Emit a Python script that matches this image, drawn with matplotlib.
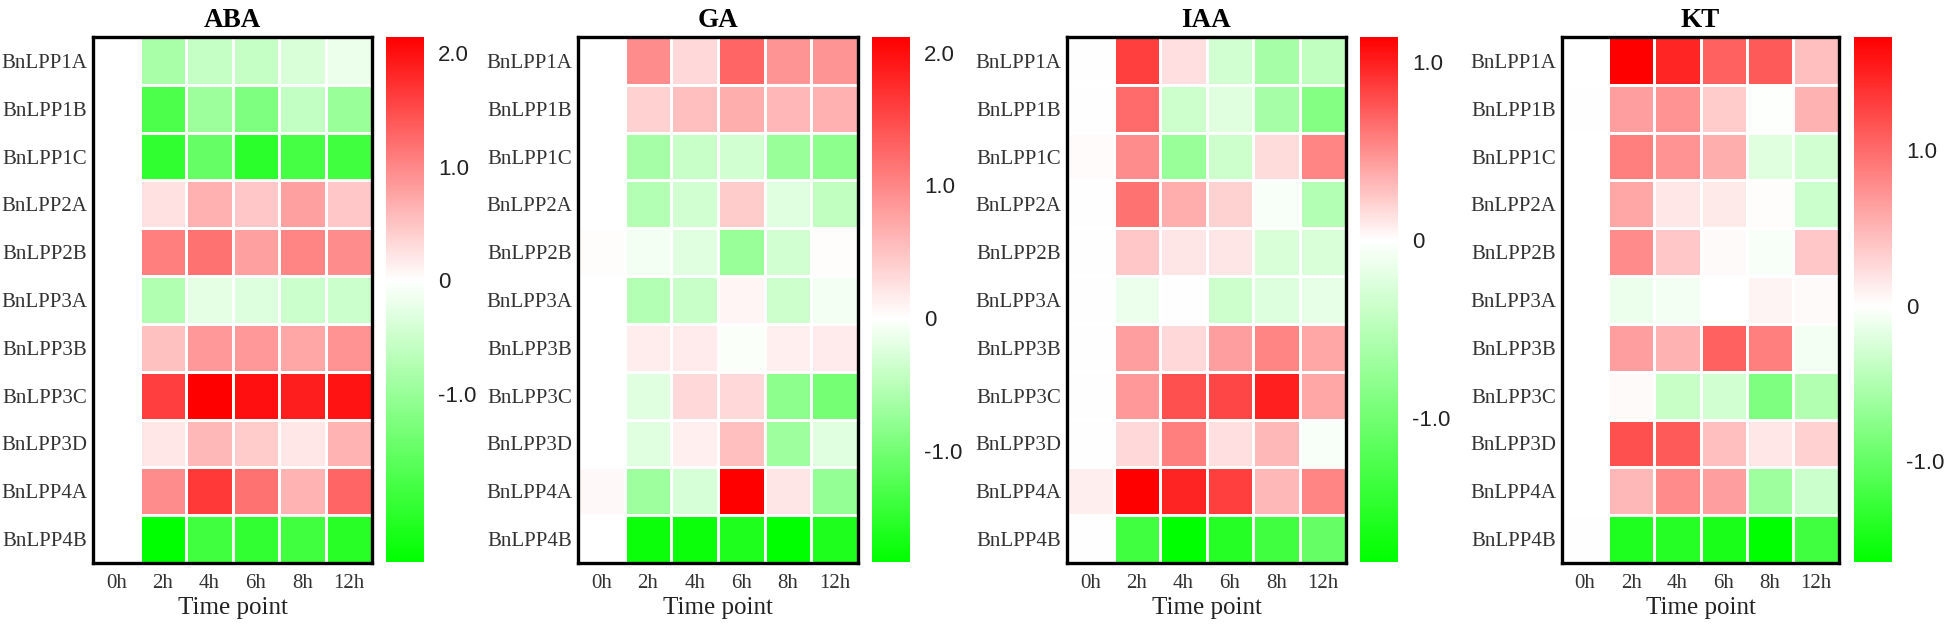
import matplotlib
matplotlib.use("Agg")
import matplotlib.pyplot as plt
import numpy as np
from matplotlib.colors import LinearSegmentedColormap, Normalize

genes = ["BnLPP1A", "BnLPP1B", "BnLPP1C", "BnLPP2A", "BnLPP2B", "BnLPP3A",
         "BnLPP3B", "BnLPP3C", "BnLPP3D", "BnLPP4A", "BnLPP4B"]
times = ["0h", "2h", "4h", "6h", "8h", "12h"]

# expression values (rows = genes, cols = time points)
aba = [
    [0.0, -0.85, -0.55, -0.55, -0.37, -0.20],
    [0.0, -1.75, -0.95, -1.25, -0.60, -1.00],
    [0.0, -2.00, -1.50, -2.05, -1.80, -1.85],
    [0.0, 0.25, 0.65, 0.47, 0.80, 0.47],
    [0.0, 1.07, 1.18, 0.80, 1.03, 0.96],
    [0.0, -0.75, -0.25, -0.32, -0.50, -0.50],
    [0.0, 0.53, 0.85, 0.85, 0.75, 0.90],
    [0.0, 1.60, 2.14, 2.00, 1.88, 1.97],
    [0.0, 0.20, 0.60, 0.43, 0.20, 0.64],
    [0.0, 0.96, 1.67, 1.18, 0.64, 1.28],
    [0.0, -2.48, -1.86, -1.98, -1.86, -2.10],
]
ga = [
    [0.0, 0.95, 0.32, 1.27, 0.89, 0.89],
    [0.0, 0.38, 0.53, 0.68, 0.60, 0.64],
    [0.0, -0.64, -0.40, -0.33, -0.74, -0.83],
    [0.0, -0.55, -0.33, 0.42, -0.22, -0.46],
    [0.02, -0.09, -0.22, -0.74, -0.33, 0.02],
    [0.0, -0.55, -0.40, 0.08, -0.37, -0.09],
    [0.0, 0.15, 0.17, -0.04, 0.13, 0.17],
    [0.0, -0.22, 0.32, 0.32, -0.83, -1.00],
    [0.0, -0.22, 0.13, 0.53, -0.70, -0.22],
    [0.06, -0.70, -0.28, 2.12, 0.21, -0.77],
    [0.0, -1.75, -1.75, -1.62, -1.84, -1.62],
]
iaa = [
    [0.0, 0.86, 0.14, -0.33, -0.63, -0.45],
    [0.0, 0.66, -0.36, -0.22, -0.63, -0.87],
    [0.02, 0.51, -0.72, -0.36, 0.15, 0.55],
    [0.01, 0.63, 0.36, 0.20, -0.05, -0.54],
    [0.0, 0.25, 0.11, 0.11, -0.27, -0.27],
    [0.0, -0.13, 0.01, -0.36, -0.24, -0.18],
    [0.0, 0.43, 0.17, 0.43, 0.55, 0.40],
    [0.0, 0.46, 0.78, 0.82, 1.00, 0.40],
    [0.01, 0.17, 0.57, 0.14, 0.32, -0.05],
    [0.07, 1.14, 0.97, 0.86, 0.32, 0.55],
    [0.0, -1.36, -1.81, -1.54, -1.36, -1.09],
]
kt = [
    [0.0, 1.73, 1.47, 1.07, 1.12, 0.43],
    [0.01, 0.66, 0.73, 0.35, -0.02, 0.52],
    [0.0, 0.87, 0.73, 0.55, -0.20, -0.30],
    [0.0, 0.60, 0.17, 0.14, 0.02, -0.33],
    [0.0, 0.78, 0.38, 0.03, -0.05, 0.38],
    [0.0, -0.13, -0.08, 0.0, 0.07, 0.03],
    [0.0, 0.66, 0.52, 1.07, 0.87, -0.07],
    [0.0, 0.03, -0.36, -0.30, -0.83, -0.50],
    [0.0, 1.18, 1.12, 0.43, 0.17, 0.31],
    [0.0, 0.48, 0.78, 0.66, -0.63, -0.33],
    [0.01, -1.45, -1.40, -1.49, -1.65, -1.24],
]

titles = ["ABA", "GA", "IAA", "KT"]
panels = [aba, ga, iaa, kt]
limits = [(-2.48, 2.14), (-1.84, 2.12), (-1.81, 1.14), (-1.65, 1.73)]
cbar_ticks = [[-1, 0, 1, 2], [-1, 0, 1, 2], [-1, 0, 1], [-1, 0, 1]]
cbar_labels = [["-1.0", "0", "1.0", "2.0"], ["-1.0", "0", "1.0", "2.0"],
               ["-1.0", "0", "1.0"], ["-1.0", "0", "1.0"]]

W, H = 1946, 628
fig = plt.figure(figsize=(W / 100, H / 100), dpi=100)

# pixel boxes: heatmap left/right, colorbar left/right
hm_x = [(93, 372), (578, 858), (1067, 1346), (1562, 1839)]
cb_x = [(386, 424), (872, 910), (1360, 1398), (1854, 1892)]
top, bottom = 37, 563

serif = "Liberation Serif"
sans = "Liberation Sans"

for i in range(4):
    data = np.array(panels[i])
    vmin, vmax = limits[i]
    w = -vmin / (vmax - vmin)
    cmap = LinearSegmentedColormap.from_list(
        "gwr", [(0, "#00ff00"), (w, "#ffffff"), (1, "#ff0000")])
    norm = Normalize(vmin=vmin, vmax=vmax)

    x0, x1 = hm_x[i]
    ax = fig.add_axes([x0 / W, 1 - bottom / H, (x1 - x0) / W, (bottom - top) / H])
    mesh = ax.pcolormesh(data, cmap=cmap, norm=norm, edgecolors="white", linewidth=1.8)
    ax.set_xlim(0, len(times))
    ax.set_ylim(len(genes), 0)
    ax.set_xticks(np.arange(len(times)) + 0.5)
    ax.set_xticklabels(times, fontfamily=serif, fontsize=15, color="#333333")
    ax.set_yticks(np.arange(len(genes)) + 0.5)
    ax.set_yticklabels(genes, fontfamily=serif, fontsize=15, color="#333333")
    ax.tick_params(axis="y", length=0, pad=4)
    ax.tick_params(axis="x", length=0, pad=8)
    for s in ax.spines.values():
        s.set_linewidth(2.4)
        s.set_color("black")
    ax.set_xlabel("Time point", fontfamily=serif, fontsize=18, color="#222222", labelpad=3)
    ax.set_title(titles[i], fontfamily=serif, fontsize=19.5, fontweight="bold", pad=7)

    c0, c1 = cb_x[i]
    cax = fig.add_axes([c0 / W, 1 - 562 / H, (c1 - c0) / W, (562 - 37) / H])
    cb = fig.colorbar(mesh, cax=cax)
    cb.outline.set_visible(False)
    cb.set_ticks(cbar_ticks[i])
    cb.set_ticklabels(cbar_labels[i])
    cax.tick_params(length=0, pad=10, labelsize=16, labelcolor="#222222")
    for t in cax.get_yticklabels():
        t.set_fontfamily(sans)

fig.savefig("out.png", dpi=100)
